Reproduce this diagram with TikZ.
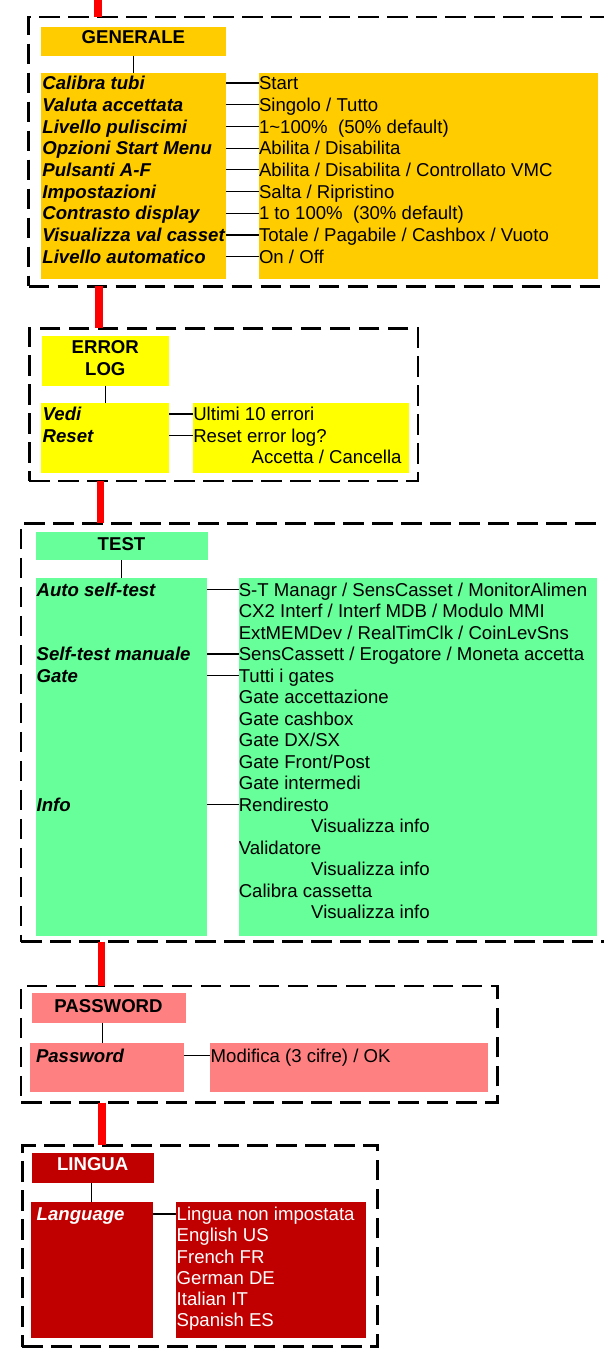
\documentclass[tikz,border=0pt]{standalone}
\usepackage{fontspec}
\setmainfont{Liberation Sans}
\definecolor{cgen}{HTML}{FFCC00}
\definecolor{cerr}{HTML}{FFFF00}
\definecolor{ctst}{HTML}{66FF99}
\definecolor{cpwd}{HTML}{FF8080}
\definecolor{clng}{HTML}{C00000}
\definecolor{cred}{HTML}{FF0000}
\begin{document}
\begin{tikzpicture}[x=1pt,y=-1pt,
  every node/.style={inner sep=0pt, outer sep=0pt},
  txt/.style={anchor=base west, font=\fontsize{18.6}{21.7}\selectfont, text height=13.3pt, text depth=0pt},
  lbl/.style={anchor=base west, font=\fontsize{18.6}{21.7}\selectfont\bfseries\itshape, text height=13.3pt, text depth=0pt},
  hdt/.style={anchor=base, font=\fontsize{18.6}{21.7}\selectfont\bfseries},
  boxn/.style={draw=none, anchor=north west},
  frame/.style={draw=black, line width=2.5pt, dash pattern=on 20.5pt off 8.5pt, anchor=north west},
  conn/.style={draw=black, line width=1.2pt},
  redline/.style={draw=cred, line width=7.5pt},
]
\useasboundingbox (0,0) rectangle (604,1349);
\begin{scope}
\clip (0,0) rectangle (604,1349);

% ---------- frames ----------
\node[frame, minimum width=591.5pt, minimum height=269.3pt] (fG) at (28.5,17) {};
\node[frame, minimum width=388.7pt, minimum height=152.7pt] (fE) at (29.3,328.3) {};
\node[frame, minimum width=600pt, minimum height=418.4pt] (fT) at (21.2,523.3) {};
\node[frame, minimum width=476.7pt, minimum height=116.7pt] (fP) at (21,986) {};
\node[frame, minimum width=355.4pt, minimum height=201.4pt] (fL) at (22.3,1145.3) {};

% ---------- red links ----------
\coordinate (rtop) at (98.2,0);
\draw[redline] (rtop) -- (rtop |- fG.north);
\draw[redline] (99,0 |- fG.south) -- (99,0 |- fE.north);
\draw[redline] (100.3,0 |- fE.south) -- (100.3,0 |- fT.north);
\draw[redline] (101.5,0 |- fT.south) -- (101.5,0 |- fP.north);
\draw[redline] (102.2,0 |- fP.south) -- (102.2,0 |- fL.north);

% ---------- GENERALE ----------
\node[boxn, fill=cgen, minimum width=185pt, minimum height=29.3pt] (gH) at (41,26.5) {};
\node[boxn, fill=cgen, minimum width=185pt, minimum height=205.5pt] (gL) at (41,73) {};
\node[boxn, fill=cgen, minimum width=339pt, minimum height=205.5pt] (gR) at (259,73) {};
\node[hdt] (gHt) at (133.4,43) {GENERALE};
\draw[conn] (133.3,0 |- gH.south) -- (133.3,0 |- gL.north);

\node[lbl] (g0) at (42.4,89.65) {Calibra tubi};
\node[lbl] (g1) at (42.4,111.35) {Valuta accettata};
\node[lbl] (g2) at (42.4,133.05) {Livello puliscimi};
\node[lbl] (g3) at (42.4,154.75) {Opzioni Start Menu};
\node[lbl] (g4) at (42.4,176.45) {Pulsanti A-F};
\node[lbl] (g5) at (42.4,198.15) {Impostazioni};
\node[lbl] (g6) at (42.4,219.85) {Contrasto display};
\node[lbl] (g7) at (42.4,241.55) {Visualizza val casset};
\node[lbl] (g8) at (42.4,263.25) {Livello automatico};

\node[txt] (gv0) at (259,89.65) {Start};
\node[txt] (gv1) at (259,111.35) {Singolo / Tutto};
\node[txt] (gv2) at (259,133.05) {1\textasciitilde100\%\ \ (50\% default)};
\node[txt] (gv3) at (259,154.75) {Abilita / Disabilita};
\node[txt] (gv4) at (259,176.45) {Abilita / Disabilita / Controllato VMC};
\node[txt] (gv5) at (259,198.15) {Salta / Ripristino};
\node[txt] (gv6) at (259,219.85) {1 to 100\%\ \ (30\% default)};
\node[txt] (gv7) at (259,241.55) {Totale / Pagabile / Cashbox / Vuoto};
\node[txt] (gv8) at (259,263.25) {On / Off};

\foreach \i in {0,...,8}{
  \draw[conn] (gL.east |- g\i.west) -- (gR.west |- g\i.west);
}

% ---------- ERROR LOG ----------
\node[boxn, fill=cerr, minimum width=127.5pt, minimum height=49.7pt] (eH) at (41.5,336) {};
\node[boxn, fill=cerr, minimum width=128pt, minimum height=70pt] (eL) at (41,403.3) {};
\node[boxn, fill=cerr, minimum width=216.3pt, minimum height=70pt] (eR) at (193,403.3) {};
\node[hdt] (eHt1) at (105.3,353.3) {ERROR};
\node[hdt] (eHt2) at (105.3,375.3) {LOG};
\draw[conn] (105.3,0 |- eH.south) -- (105.3,0 |- eL.north);

\node[lbl] (e0) at (42.7,420.65) {Vedi};
\node[lbl] (e1) at (42.7,442.15) {Reset};
\node[txt] (ev0) at (193.3,420.65) {Ultimi 10 errori};
\node[txt] (ev1) at (193.3,442.15) {Reset error log?};
\node[txt] (ev2) at (251.7,463.65) {Accetta / Cancella};
\draw[conn] (eL.east |- e0.west) -- (eR.west |- e0.west);
\draw[conn] (eL.east |- e1.west) -- (eR.west |- e1.west);

% ---------- TEST ----------
\node[boxn, fill=ctst, minimum width=172pt, minimum height=27.7pt] (tH) at (35.6,532.3) {};
\node[boxn, fill=ctst, minimum width=171.6pt, minimum height=357.4pt] (tL) at (35.6,578.3) {};
\node[boxn, fill=ctst, minimum width=358.2pt, minimum height=357.4pt] (tR) at (238.8,578.3) {};
\node[hdt] (tHt) at (121.5,550) {TEST};
\draw[conn] (121.3,0 |- tH.south) -- (121.3,0 |- tL.north);

\node[lbl] (t0) at (36.6,596.15) {Auto self-test};
\node[lbl] (t3) at (36.6,660.65) {Self-test manuale};
\node[lbl] (t4) at (36.6,682.15) {Gate};
\node[lbl] (t10) at (36.6,811.15) {Info};

\node[txt] (tv0) at (238.8,596.15) {S-T Managr / SensCasset / MonitorAlimen};
\node[txt] (tv1) at (238.8,617.65) {CX2 Interf / Interf MDB / Modulo MMI};
\node[txt] (tv2) at (238.8,639.15) {ExtMEMDev / RealTimClk / CoinLevSns};
\node[txt] (tv3) at (238.8,660.65) {SensCassett / Erogatore / Moneta accetta};
\node[txt] (tv4) at (238.8,682.15) {Tutti i gates};
\node[txt] (tv5) at (238.8,703.65) {Gate accettazione};
\node[txt] (tv6) at (238.8,725.15) {Gate cashbox};
\node[txt] (tv7) at (238.8,746.65) {Gate DX/SX};
\node[txt] (tv8) at (238.8,768.15) {Gate Front/Post};
\node[txt] (tv9) at (238.8,789.65) {Gate intermedi};
\node[txt] (tv10) at (238.8,811.15) {Rendiresto};
\node[txt] (tv11) at (311.2,832.65) {Visualizza info};
\node[txt] (tv12) at (238.8,854.15) {Validatore};
\node[txt] (tv13) at (311.2,875.65) {Visualizza info};
\node[txt] (tv14) at (238.8,897.15) {Calibra cassetta};
\node[txt] (tv15) at (311.2,918.65) {Visualizza info};

\foreach \i in {0,3,4,10}{
  \draw[conn] (tL.east |- t\i.west) -- (tR.west |- t\i.west);
}

% ---------- PASSWORD ----------
\node[boxn, fill=cpwd, minimum width=153.7pt, minimum height=30pt] (pH) at (32,992.7) {};
\node[boxn, fill=cpwd, minimum width=154pt, minimum height=48.4pt] (pL) at (30,1043.3) {};
\node[boxn, fill=cpwd, minimum width=277.7pt, minimum height=48.4pt] (pR) at (210,1043.3) {};
\node[hdt] (pHt) at (108.5,1012.7) {PASSWORD};
\draw[conn] (102.3,0 |- pH.south) -- (102.3,0 |- pL.north);

\node[lbl] (p0) at (36,1062) {Password};
\node[txt] (pv0) at (210.7,1062) {Modifica (3 cifre) / OK};
\draw[conn] (pL.east |- p0.west) -- (pR.west |- p0.west);

% ---------- LINGUA ----------
\node[boxn, fill=clng, minimum width=121.7pt, minimum height=29.4pt] (lH) at (32,1153.3) {};
\node[boxn, fill=clng, minimum width=122pt, minimum height=135.7pt] (lL) at (31,1202) {};
\node[boxn, fill=clng, minimum width=190pt, minimum height=135.7pt] (lR) at (176,1202) {};
\node[hdt, text=white] (lHt) at (92.7,1170) {LINGUA};
\draw[conn] (91.7,0 |- lH.south) -- (91.7,0 |- lL.north);

\node[lbl, text=white] (l0) at (36.7,1220.65) {Language};
\node[txt, text=white] (lv0) at (176.7,1220.65) {Lingua non impostata};
\node[txt, text=white] (lv1) at (176.7,1241.85) {English US};
\node[txt, text=white] (lv2) at (176.7,1263.05) {French FR};
\node[txt, text=white] (lv3) at (176.7,1284.25) {German DE};
\node[txt, text=white] (lv4) at (176.7,1305.45) {Italian IT};
\node[txt, text=white] (lv5) at (176.7,1326.65) {Spanish ES};
\draw[conn] (lL.east |- l0.west) -- (lR.west |- l0.west);
\end{scope}
\end{tikzpicture}
\end{document}
